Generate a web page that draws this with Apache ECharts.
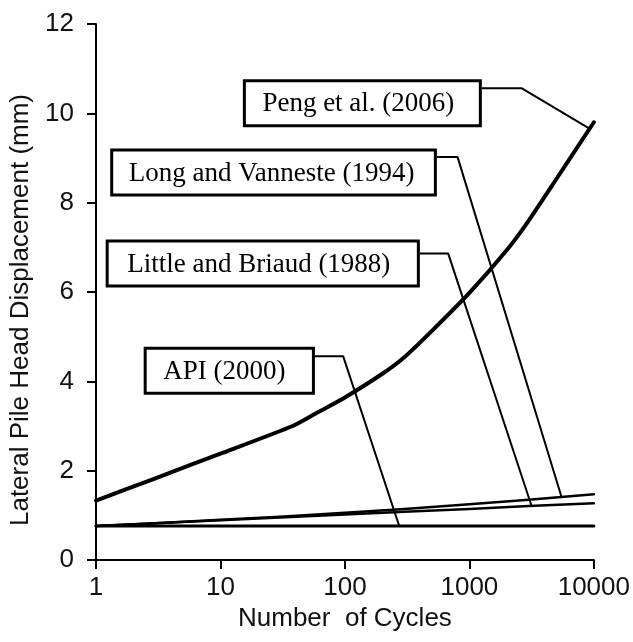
<!DOCTYPE html>
<html>
<head>
<meta charset="utf-8">
<script src="https://cdn.jsdelivr.net/npm/echarts@6/dist/echarts.min.js"></script>
<style>
  html, body { margin: 0; padding: 0; background: #fff; }
  #chart { width: 633px; height: 642px; }
</style>
</head>
<body>
<div id="chart"></div>
<script>
// number of cycles (log axis) and lateral displacement (mm)
const cycles = [1, 3, 10, 30, 100, 300, 1000, 3000, 10000]
const api2000 = [0.76, 0.76, 0.76, 0.76, 0.76, 0.76, 0.76, 0.76, 0.76]
const littleBriaud1988 = [0.76, 0.82, 0.89, 0.95, 1.02, 1.08, 1.14, 1.21, 1.27]
const longVanneste1994 = [0.76, 0.82, 0.9, 0.97, 1.06, 1.14, 1.25, 1.35, 1.47]

// Peng et al. has its own sampling (kink near 40 cycles)
const pengCycles = [1, 3, 10, 38, 60, 100, 200, 300, 500, 1000, 2000, 3000, 5000, 10000]
const peng2006 = [1.33, 1.83, 2.38, 3.0, 3.3, 3.64, 4.17, 4.54, 5.13, 5.98, 6.94, 7.6, 8.53, 9.8]

const yTicks = [0, 2, 4, 6, 8, 10, 12]

// callout labels: box anchor, elbow, target point (data coords)
const calloutNames = ['Peng et al. (2006)', 'Long and Vanneste (1994)', 'Little and Briaud (1988)', 'API (2000)']
const calloutStart = [[1259, 10.56], [548, 9.02], [400, 6.86], [57.4, 4.56]]
const calloutElbow = [[2641, 10.56], [804, 9.02], [676, 6.86], [96.9, 4.56]]
const calloutTarget = [[9300, 9.65], [5500, 1.41], [3160, 1.21], [273, 0.76]]

// box look, one per callout (px)
const boxTopGap = [9, 8.5, 14, 9.5]
const boxPadLeft = [18, 17, 20, 18]
const boxPadRight = [26, 21, 28, 28]
const boxHeight = 48
const boxFont = '27px "Liberation Serif", "Times New Roman", serif'

const pairs = (xs, ys) => xs.map((x, i) => [x, ys[i]])

const chart = echarts.init(document.getElementById('chart'))

const curve = (name, xs, ys, width, smooth) => ({
  name,
  type: 'line',
  data: pairs(xs, ys),
  symbol: 'none',
  smooth: smooth || false,
  z: 3,
  lineStyle: { color: '#000', width, cap: 'round', join: 'round' }
})

const series = [
  curve('API (2000)', cycles, api2000, 3),
  curve('Little and Briaud (1988)', cycles, littleBriaud1988, 2.5),
  curve('Long and Vanneste (1994)', cycles, longVanneste1994, 2.5),
  curve('Peng et al. (2006)', pengCycles, peng2006, 4, 0.2)
]

// leader lines: box edge -> elbow -> curve
calloutNames.forEach((name, i) => {
  series.push({
    name: name + ' leader',
    type: 'line',
    data: [calloutStart[i], calloutElbow[i], calloutTarget[i]],
    symbol: 'none',
    silent: true,
    z: 4,
    lineStyle: { color: '#000', width: 2 }
  })
})

const axisFont = { fontFamily: 'Liberation Sans', fontSize: 26, color: '#111' }

chart.setOption({
  animation: false,
  backgroundColor: '#fff',
  grid: { left: 96, right: 39, top: 24, bottom: 82 },
  xAxis: {
    type: 'log',
    logBase: 10,
    min: cycles[0],
    max: cycles[cycles.length - 1],
    name: 'Number  of Cycles',
    nameLocation: 'middle',
    nameGap: 44,
    nameTextStyle: axisFont,
    axisLine: { lineStyle: { color: '#000', width: 2 } },
    axisTick: { length: 9, lineStyle: { color: '#000', width: 2 } },
    axisLabel: Object.assign({ margin: 15, formatter: (v) => String(v) }, axisFont),
    splitLine: { show: false },
    minorTick: { show: false }
  },
  yAxis: {
    type: 'value',
    min: yTicks[0],
    max: yTicks[yTicks.length - 1],
    interval: 2,
    name: 'Lateral Pile Head Displacement (mm)',
    nameLocation: 'middle',
    nameGap: 61,
    nameTextStyle: Object.assign({ padding: [0, 36, 0, 0] }, axisFont),
    axisLine: { show: true, lineStyle: { color: '#000', width: 2 } },
    axisTick: { show: true, length: 9, lineStyle: { color: '#000', width: 2 } },
    axisLabel: Object.assign({ margin: 22 }, axisFont),
    splitLine: { show: false }
  },
  series
})

// callout boxes, hung off the leader start point
const ctx = document.createElement('canvas').getContext('2d')
ctx.font = boxFont
const boxes = []
calloutNames.forEach((name, i) => {
  const p = chart.convertToPixel({ gridIndex: 0 }, calloutStart[i])
  const tw = ctx.measureText(name).width
  const w = boxPadLeft[i] + tw + boxPadRight[i]
  const right = p[0] - 1.5
  const top = p[1] - boxTopGap[i] + 1.5
  const h = boxHeight - 3
  boxes.push({
    type: 'rect',
    z: 10,
    shape: { x: right - w, y: top, width: w, height: h },
    style: { fill: '#fff', stroke: '#000', lineWidth: 3 }
  })
  boxes.push({
    type: 'text',
    z: 11,
    style: {
      text: name,
      x: right - w + boxPadLeft[i],
      y: top + h / 2 + 1,
      font: boxFont,
      fill: '#000',
      verticalAlign: 'middle',
      align: 'left'
    }
  })
})
chart.setOption({ graphic: boxes })
</script>
</body>
</html>
